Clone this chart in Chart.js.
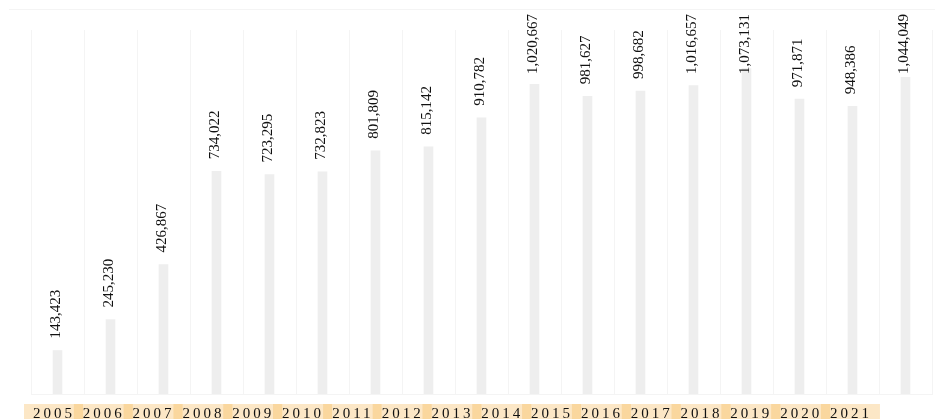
<!DOCTYPE html>
<html>
<head>
<meta charset="utf-8">
<script src="https://cdn.jsdelivr.net/npm/chart.js@4.4.1/dist/chart.umd.min.js"></script>
<style>
  body { margin: 0; background: #fff; }
  #wrap { position: relative; width: 940px; height: 419px; }
  #topline { position: absolute; left: 9px; top: 9px; width: 926px; border-top: 1px solid #f4f4f4; }
</style>
</head>
<body>
<div id="wrap">
  <div id="topline"></div>
  <canvas id="myChart"></canvas>
</div>
<script>
var years = ['2005','2006','2007','2008','2009','2010','2011','2012','2013','2014','2015','2016','2017','2018','2019','2020','2021']
var values = [143423, 245230, 426867, 734022, 723295, 732823, 801809, 815142, 910782, 1020667, 981627, 998682, 1016657, 1073131, 971871, 948386, 1044049]

// letter spacing for the year labels
var spacing = {
    id: 'spacing',
    beforeUpdate: function(chart){ chart.ctx.letterSpacing = '3px' },
    beforeDraw: function(chart){ chart.ctx.letterSpacing = '3px' }
}

// rotated value labels above each bar, kept inside the top edge
var valueLabels = {
    id: 'valueLabels',
    afterDatasetsDraw: function(chart){
        let ctx = chart.ctx
        let meta = chart.getDatasetMeta(0)
        meta.data.forEach((bar, i) => {
            let txt = values[i].toLocaleString('en-US')
            ctx.save()
            ctx.letterSpacing = '0px'
            ctx.font = '15px "Liberation Serif", "Times New Roman", serif'
            ctx.fillStyle = '#111'
            let w = ctx.measureText(txt).width
            let y = Math.max(bar.y - 12, 14 + w)
            ctx.translate(bar.x - 1, y)
            ctx.rotate(-Math.PI / 2)
            ctx.textAlign = 'left'
            ctx.textBaseline = 'middle'
            ctx.fillText(txt, 0, 0)
            ctx.restore()
        })
    }
}

var ctx = document.getElementById('myChart').getContext('2d');
var myChart = new Chart(ctx, {
    type: 'bar',
    data: {
        labels: years,
        datasets: [{
            label: 'value',
            data: values,
            backgroundColor: '#eeeeee',
            barThickness: 9
        }]
    },
    plugins: [spacing, valueLabels],
    options: {
        responsive: true,
        maintainAspectRatio: false,
        animation: false,
        layout: { padding: { left: 31, right: 8, top: 30, bottom: -16 } },
        plugins: { legend: { display: false }, tooltip: { enabled: false } },
        scales: {
            y: {
                display: false,
                min: 0,
                max: 1200000
            },
            x: {
                ticks: { display: false },
                grid: { color: '#f4f4f4', drawTicks: false },
                border: { color: '#f4f4f4' }
            },
            x2: {
                type: 'linear',
                position: 'bottom',
                offset: false,
                min: 0,
                max: 16,
                grid: { display: false, drawTicks: false },
                border: { display: false },
                afterBuildTicks: function(s){
                    s.ticks = s.ticks.filter(t => t.value >= 0 && t.value < years.length)
                    // year labels sit a little tighter than the bars
                    s.min = -0.4618
                    s.max = 17.627
                },
                ticks: {
                    stepSize: 1,
                    autoSkip: false,
                    maxRotation: 0,
                    padding: 13,
                    color: '#111',
                    font: { family: '"Liberation Serif", "Times New Roman", serif', size: 15, lineHeight: 1 },
                    showLabelBackdrop: true,
                    backdropColor: 'rgba(245,176,65,0.3)',
                    backdropPadding: { left: 9, right: 8, top: 3, bottom: 8 },
                    callback: function(v){ return years[v] }
                }
            }
        }
    }
});
</script>
</body>
</html>
